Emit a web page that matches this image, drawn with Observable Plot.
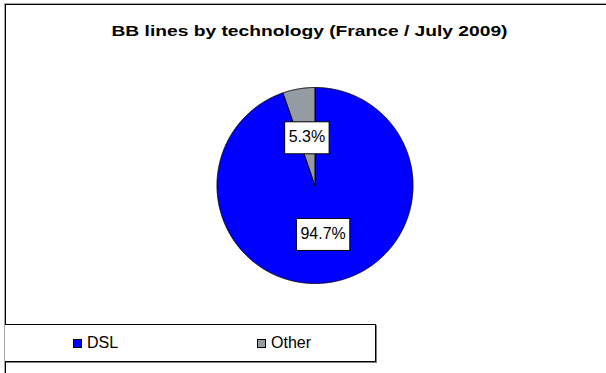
<!DOCTYPE html>
<html><head><meta charset="utf-8">
<script src="https://cdn.jsdelivr.net/npm/d3@7"></script>
<script src="https://cdn.jsdelivr.net/npm/@observablehq/plot@0.6"></script>
<style>
body{margin:0;background:#fff;font-family:Arial,"Liberation Sans",sans-serif;}
#wrap{position:relative;width:606px;height:373px;overflow:hidden;background:#fff;}
#wrap svg{position:absolute;left:0;top:0;}
#frame{position:absolute;left:5px;top:4px;width:800px;height:600px;border-left:1px solid #000;border-top:1px solid #000;box-shadow:-1px -1px 0 #a8a8a8;}
#legend{position:absolute;left:5px;top:324px;width:370px;height:36px;border:1px solid #000;border-left:none;box-shadow:1px 1px 0 #808080;background:#fff;}
.item{position:absolute;top:9px;height:18px;display:flex;align-items:center;font-size:16px;color:#000;}
.sw{width:9px;height:9px;box-sizing:border-box;border:1px solid #000;margin-right:5px;}
</style></head><body><div id="wrap"><div id="frame"></div></div>
<script>
const categories = ["DSL", "Other"];
const shares = [94.7, 5.3];
const labels = ["94.7%", "5.3%"];
const colors = ["#0000FF", "#959BA2"];
const title = "BB lines by technology (France / July 2009)";

const data = categories.map((c, i) => ({cat: c, share: shares[i], label: labels[i]}));
const arcs = d3.pie().sort(null).value(d => d.share)(data);

// slice outlines in unit-radius data space (angle clockwise from 12 o'clock)
const points = [];
for (const a of arcs) {
  const n = Math.max(4, Math.ceil((a.endAngle - a.startAngle) / (Math.PI / 720)));
  points.push({cat: a.data.cat, x: 0, y: 0});
  for (let k = 0; k <= n; k++) {
    const t = a.startAngle + (a.endAngle - a.startAngle) * k / n;
    points.push({cat: a.data.cat, x: Math.sin(t), y: Math.cos(t)});
  }
  points.push({cat: a.data.cat, x: 0, y: 0});
}
const labelData = arcs.map(a => {
  const m = (a.startAngle + a.endAngle) / 2;
  return {label: a.data.label, x: 0.5 * Math.sin(m), y: 0.5 * Math.cos(m)};
});

const W = 606, H = 373, CX = 314.5, CY = 185, R = 98;
const chart = Plot.plot({
  width: W, height: H, margin: 0,
  style: {background: "transparent", fontFamily: "Arial, 'Liberation Sans', sans-serif", overflow: "visible"},
  x: {domain: [-CX / R, (W - CX) / R], axis: null},
  y: {domain: [-(H - CY) / R, CY / R], axis: null},
  color: {domain: categories, range: colors},
  marks: [
    Plot.line(points, {x: "x", y: "y", z: "cat", fill: "cat", stroke: "#000", strokeWidth: 1, curve: "linear"}),
    Plot.text(labelData, {x: "x", y: "y", text: "label", fontSize: 16, fill: "#000", className: "slice-label"}),
    Plot.text([title], {frameAnchor: "top", lineAnchor: "top", dx: 6, dy: 25, fontSize: 15, fontWeight: "bold", fill: "#000", className: "chart-title"})
  ]
});
const wrap = document.getElementById("wrap");
wrap.appendChild(chart);

// label boxes
d3.select(chart).selectAll(".slice-label text").each(function() {
  const bb = this.getBBox();
  const padX = 4, h = 32;
  const cy = bb.y + bb.height / 2;
  const r = document.createElementNS("http://www.w3.org/2000/svg", "rect");
  r.setAttribute("x", bb.x - padX);
  r.setAttribute("y", cy - h / 2 + 1);
  r.setAttribute("width", bb.width + 2 * padX);
  r.setAttribute("height", h);
  r.setAttribute("fill", "#fff");
  r.setAttribute("stroke", "#000");
  r.setAttribute("stroke-width", 1);
  const tr = this.getAttribute("transform");
  if (tr) r.setAttribute("transform", tr);
  this.parentNode.insertBefore(r, this);
});
d3.select(chart).selectAll(".chart-title text").attr("textLength", 396).attr("lengthAdjust", "spacingAndGlyphs");

// legend
const legend = document.createElement("div");
legend.id = "legend";
const itemLeft = [68, 252];
categories.forEach((c, i) => {
  const it = document.createElement("div");
  it.className = "item";
  it.style.left = itemLeft[i] + "px";
  const sw = document.createElement("div");
  sw.className = "sw";
  sw.style.background = colors[i];
  const tx = document.createElement("span");
  tx.textContent = c;
  it.appendChild(sw); it.appendChild(tx);
  legend.appendChild(it);
});
wrap.appendChild(legend);
</script></body></html>
